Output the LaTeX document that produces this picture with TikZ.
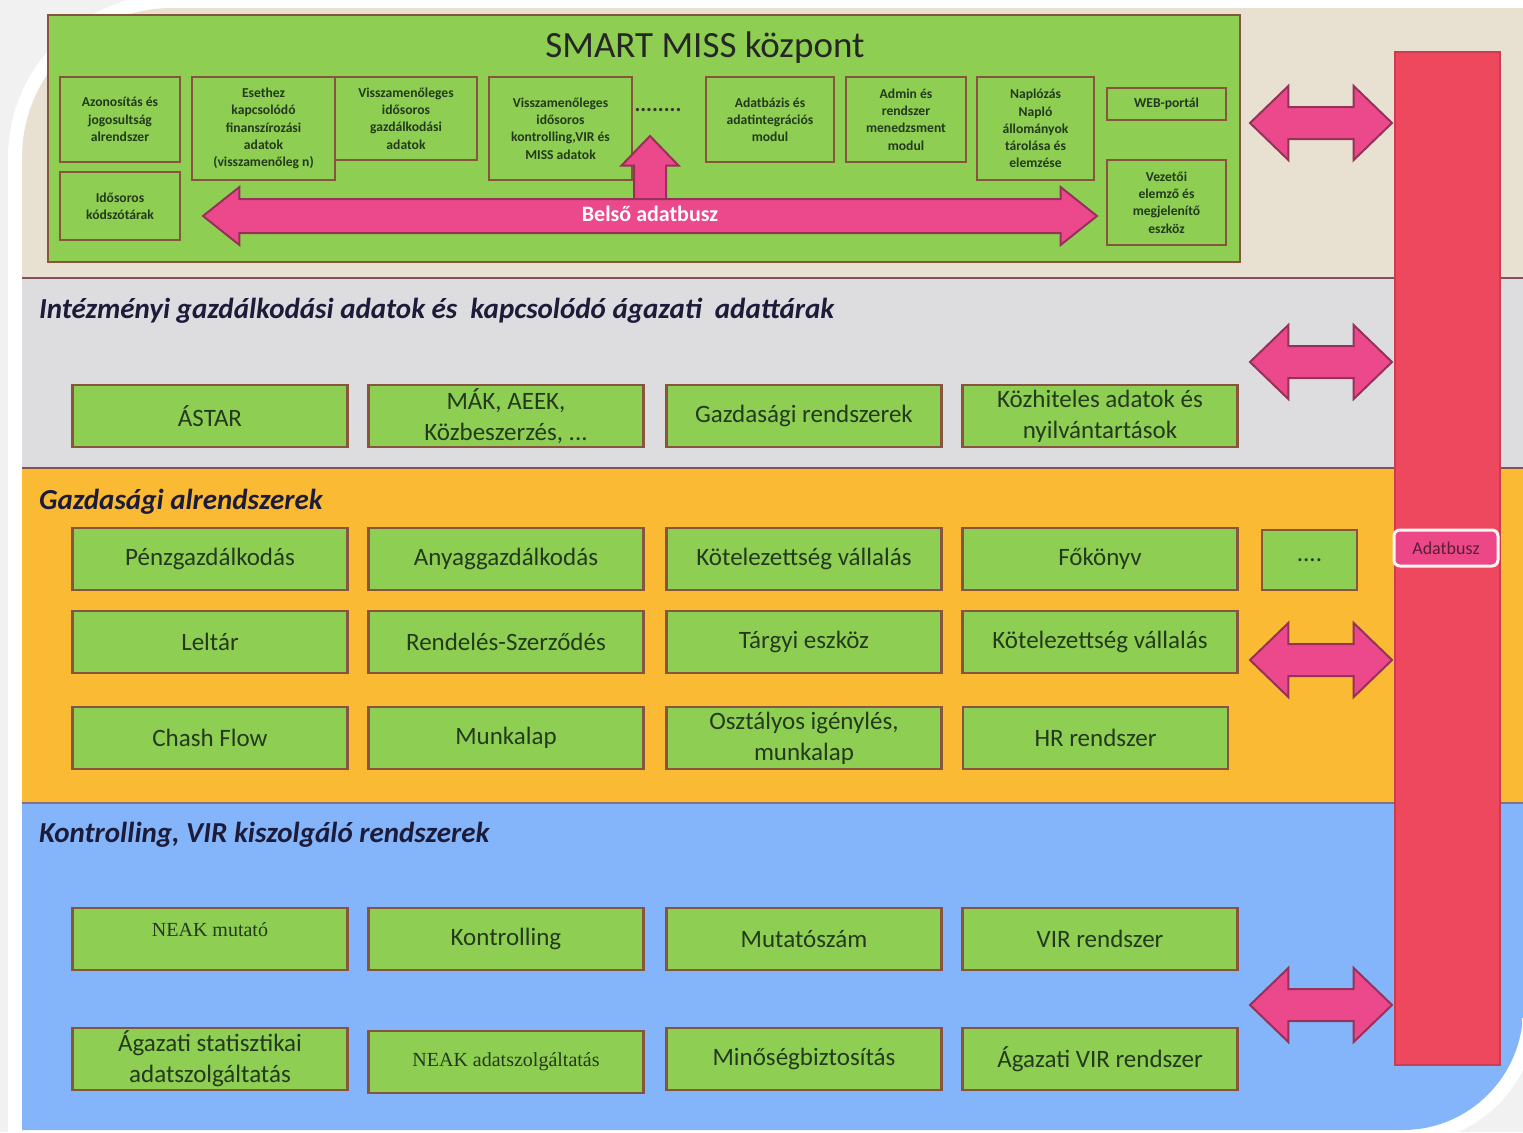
\documentclass[tikz,border=0pt]{standalone}
\usepackage{fontspec}
\setmainfont{Carlito}
\newfontfamily\neakfont{Liberation Serif}
\usepackage{tikz}
\usetikzlibrary{shapes.arrows}

\definecolor{boxgreen}{RGB}{142,206,82}
\definecolor{boxline}{RGB}{135,85,62}
\definecolor{boxtext}{RGB}{35,58,30}
\definecolor{beige}{RGB}{232,224,208}
\definecolor{lightgrey}{RGB}{221,221,224}
\definecolor{bandorange}{RGB}{250,186,52}
\definecolor{bandblue}{RGB}{132,180,250}
\definecolor{bandline}{RGB}{130,82,90}
\definecolor{busred}{RGB}{238,72,94}
\definecolor{arrowpink}{RGB}{236,72,140}
\definecolor{arrowline}{RGB}{150,50,90}
\definecolor{titleblue}{RGB}{28,28,58}
\definecolor{checker}{RGB}{241,241,241}

\begin{document}
\begin{tikzpicture}[
            x=0.5pt, y=-0.5pt,
            sysbox/.style={rectangle,fill=boxgreen,draw=boxline,line width=1.4pt,
                minimum width=137.5pt,minimum height=31pt,inner sep=1pt,align=center,
                text=boxtext,font=\fontsize{12.5}{15.5}\selectfont},
            smallbox/.style={rectangle,fill=boxgreen,draw=boxline,line width=1.2pt,
                inner sep=1pt,align=center,text=boxtext,font=\bfseries\fontsize{6.8}{8.6}\selectfont},
            band title/.style={anchor=west,text=titleblue,font=\bfseries\itshape\fontsize{14.5}{16}\selectfont},
            side arrow/.style={double arrow,fill=arrowpink,draw=arrowline,line width=1pt,
                minimum height=71pt,minimum width=36pt,double arrow head extend=10.5pt,
                double arrow tip angle=88,inner xsep=0pt,inner ysep=7.5pt},
            ]
            \useasboundingbox (0,0) rectangle (1523,1132);
            % frame with the two round corners
            \fill[checker] (0,0) rectangle (1523,1132);
            \fill[white] (8,1146) -- (8,158) .. controls (8,67.5) and (81.5,-6) .. (172,-6)
                -- (1537,-6) -- (1537,1010) .. controls (1537,1084) and (1477,1144) .. (1403,1144) -- cycle;
            \begin{scope}
                \clip (22,1130) -- (22,158) .. controls (22,75) and (89,8) .. (172,8)
                    -- (1523,8) -- (1523,1010) .. controls (1523,1076) and (1469,1130) .. (1403,1130) -- cycle;
                \fill[beige] (0,0) rectangle (1523,278);
                \fill[lightgrey] (0,278) rectangle (1523,468);
                \fill[bandorange] (0,468) rectangle (1523,803);
                \fill[bandblue] (0,803) rectangle (1523,1132);
                \draw[bandline, line width=1.2pt] (0,278) -- (1523,278);
                \draw[bandline, line width=1.2pt] (0,468) -- (1523,468);
                \draw[bandline!70!bandblue, line width=1.2pt] (0,803) -- (1523,803);
            \end{scope}

            % SMART MISS centre
            \node[rectangle,fill=boxgreen,draw=boxline,line width=1.4pt,
                minimum width=596pt,minimum height=123.5pt] (smart) at (644,138.5) {};
            \node[text=black!85,font=\fontsize{18.5}{20}\selectfont] (smarttitle) at (705,48) {SMART MISS központ};

            \node[smallbox,minimum width=60pt,minimum height=42.5pt] (s1) at (120,119.5) {Azonosítás és\\jogosultság\\alrendszer};
            \node[smallbox,minimum width=60pt,minimum height=34pt] (s2) at (120,206) {Idősoros\\kódszótárak};
            \node[smallbox,minimum width=71.5pt,minimum height=51.5pt] (s3) at (263.5,128.5) {Esethez\\kapcsolódó\\finanszírozási\\adatok\\(visszamenőleg n)};
            \node[smallbox,minimum width=71pt,minimum height=41.5pt] (s4) at (406,118.5) {Visszamenőleges\\idősoros\\gazdálkodási\\adatok};
            \node[smallbox,minimum width=71.5pt,minimum height=51.5pt] (s5) at (560.5,128.5) {Visszamenőleges\\idősoros\\kontrolling,VIR és\\MISS adatok};
            \node[text=black!80,font=\bfseries\fontsize{11}{12}\selectfont] (dots) at (658,110) {........};
            \node[smallbox,minimum width=64pt,minimum height=42.5pt] (s6) at (770,119.5) {Adatbázis és\\adatintegrációs\\modul};
            \node[smallbox,minimum width=60pt,minimum height=42.5pt] (s7) at (906,119.5) {Admin és\\rendszer\\menedzsment\\modul};
            \node[smallbox,minimum width=58.5pt,minimum height=51.5pt] (s8) at (1035.5,128.5) {Naplózás\\Napló\\állományok\\tárolása és\\elemzése};
            \node[smallbox,minimum width=59.5pt,minimum height=16pt] (s9) at (1166.5,104) {WEB-portál};
            \node[smallbox,minimum width=59.5pt,minimum height=42.5pt] (s10) at (1166.5,202.5) {Vezetői\\elemző és\\megjelenítő\\eszköz};

            % internal bus
            \node[single arrow,shape border rotate=90,anchor=tail,fill=arrowpink,draw=arrowline,line width=1pt,
                minimum height=39pt,minimum width=27.5pt,single arrow head extend=6.25pt,
                single arrow tip angle=88,inner sep=7.5pt] (up) at (650,215) {};
            \node[double arrow,fill=arrowpink,draw=arrowline,line width=1pt,
                minimum height=447pt,minimum width=28pt,double arrow head extend=6pt,
                double arrow tip angle=77,inner xsep=0pt,inner ysep=2.75pt,
                text height=8pt,text depth=2.5pt,text=white,
                font=\bfseries\fontsize{11}{12}\selectfont] (belso) at (650,216) {Belső adatbusz};

            % band titles
            \node[band title] (t1) at (32,311) {Intézményi gazdálkodási adatok és~ kapcsolódó ágazati~ adattárak};
            \node[band title] (t2) at (32,502) {Gazdasági alrendszerek};
            \node[band title] (t3) at (32,835) {Kontrolling, VIR kiszolgáló rendszerek};

            % institutional data
            \node[sysbox] (i1) at (210,416) {ÁSTAR};
            \node[sysbox] (i2) at (506,416) {MÁK, AEEK,\\Közbeszerzés, ...};
            \node[sysbox] (i3) at (804,416) {Gazdasági rendszerek};
            \node[sysbox] (i4) at (1100,416) {Közhiteles adatok és\\nyilvántartások};

            % economic subsystems
            \node[sysbox] (g1) at (210,559) {Pénzgazdálkodás};
            \node[sysbox] (g2) at (506,559) {Anyaggazdálkodás};
            \node[sysbox] (g3) at (804,559) {Kötelezettség vállalás};
            \node[sysbox] (g4) at (1100,559) {Főkönyv};
            \node[sysbox,minimum width=47.5pt,minimum height=30pt] (g5) at (1309.5,560) {....};
            \node[sysbox] (g6) at (210,642) {Leltár};
            \node[sysbox] (g7) at (506,642) {Rendelés-Szerződés};
            \node[sysbox] (g8) at (804,642) {Tárgyi eszköz};
            \node[sysbox] (g9) at (1100,642) {Kötelezettség vállalás};
            \node[sysbox] (g10) at (210,738) {Chash Flow};
            \node[sysbox] (g11) at (506,738) {Munkalap};
            \node[sysbox] (g12) at (804,738) {Osztályos igénylés,\\munkalap};
            \node[sysbox,minimum width=132.5pt] (g13) at (1095.5,738) {HR rendszer};

            % controlling
            \node[sysbox,font=\neakfont\fontsize{10}{12}\selectfont,text depth=9pt] (k1) at (210,939) {NEAK mutató};
            \node[sysbox] (k2) at (506,939) {Kontrolling};
            \node[sysbox] (k3) at (804,939) {Mutatószám};
            \node[sysbox] (k4) at (1100,939) {VIR rendszer};
            \node[sysbox] (k5) at (210,1059) {Ágazati statisztikai\\adatszolgáltatás};
            \node[sysbox,font=\neakfont\fontsize{10}{12}\selectfont] (k6) at (506,1062) {NEAK adatszolgáltatás};
            \node[sysbox] (k7) at (804,1059) {Minőségbiztosítás};
            \node[sysbox] (k8) at (1100,1059) {Ágazati VIR rendszer};

            % data bus
            \node[rectangle,fill=busred,draw=busred!85!black,line width=0.6pt,
                minimum width=52.5pt,minimum height=506.5pt] (bus) at (1447.5,558.5) {};
            \node[rectangle,rounded corners=3pt,fill=arrowpink!90!busred,draw=white!85!pink,line width=1.5pt,
                minimum width=52pt,minimum height=18pt,inner sep=1pt,text=black!40!arrowline,
                font=\fontsize{9}{10}\selectfont] (buslabel) at (1446,548) {Adatbusz};

            \node[side arrow] (a1) at (1321,123) {};
            \node[side arrow] (a2) at (1321,362) {};
            \node[side arrow] (a3) at (1321,660) {};
            \node[side arrow] (a4) at (1321,1005) {};
        \end{tikzpicture}
\end{document}
